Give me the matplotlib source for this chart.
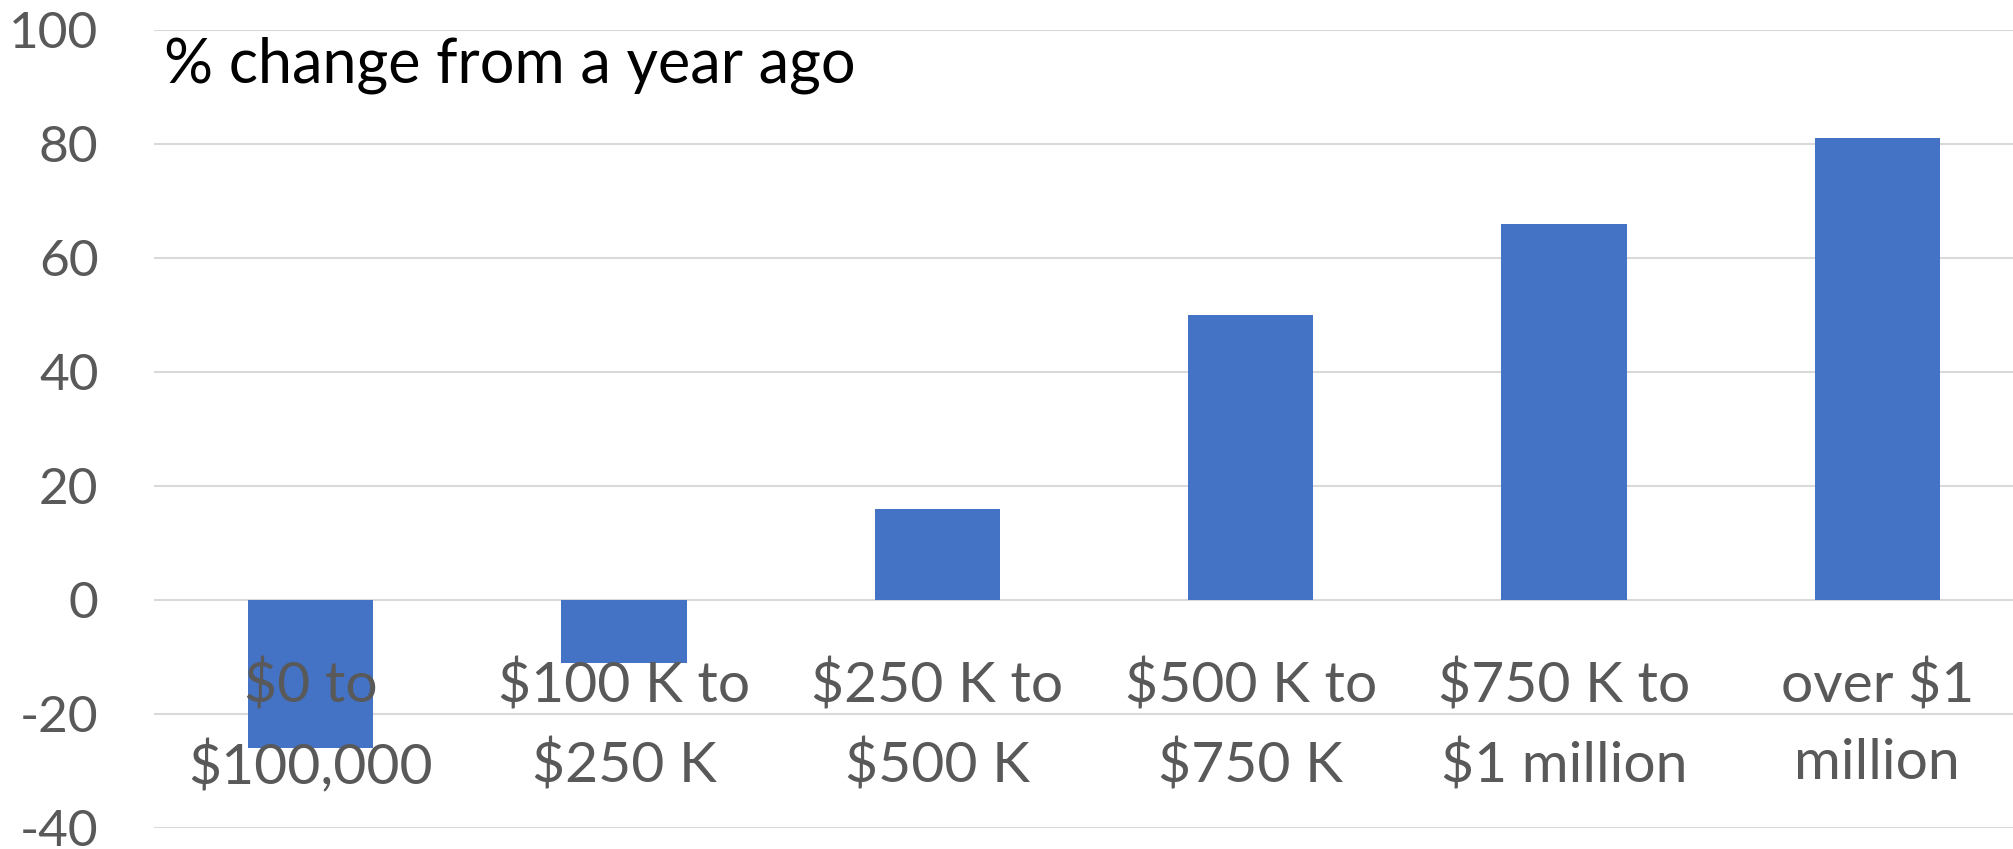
import matplotlib

matplotlib.use("Agg")
import matplotlib.pyplot as plt

plt.rcParams["font.family"] = ["Lato", "DejaVu Sans"]

categories = [
    "$0 to\n$100,000",
    "$100 K to\n$250 K",
    "$250 K to\n$500 K",
    "$500 K to\n$750 K",
    "$750 K to\n$1 million",
    "over $1\nmillion",
]
pct_change = [-26, -11, 16, 50, 66, 81]
y_ticks = [-40, -20, 0, 20, 40, 60, 80, 100]

W, H = 2013, 849
fig = plt.figure(figsize=(W / 100, H / 100), dpi=100)
# the plot area runs past the right edge of the picture, as in the source
ax = fig.add_axes([154 / W, 1 - 828 / H, 1880 / W, (828 - 30) / H])

x = range(len(categories))
ax.bar(x, pct_change, width=0.4, color="#4472C4", zorder=3)

ax.set_xlim(-0.5, len(categories) - 0.5)
ax.set_ylim(-40, 100)
ax.set_yticks(y_ticks)
ax.set_yticklabels([str(v) for v in y_ticks])
ax.tick_params(axis="y", length=0, pad=40, labelsize=37, labelcolor="#595959")
ax.set_xticks([])
ax.grid(axis="y", color="#d9d9d9", linewidth=1.5, zorder=0)
for side in ax.spines.values():
    side.set_visible(False)

for i, label in enumerate(categories):
    ax.annotate(label, (i, 0), xytext=(0, -43), textcoords="offset points",
                ha="center", va="top", fontsize=41, color="#595959",
                linespacing=1.62, zorder=4)

fig.text(164 / W, 1 - 36 / H, "% change from a year ago", ha="left", va="top",
         fontsize=44, color="black")

fig.savefig("out.png", dpi=100)
